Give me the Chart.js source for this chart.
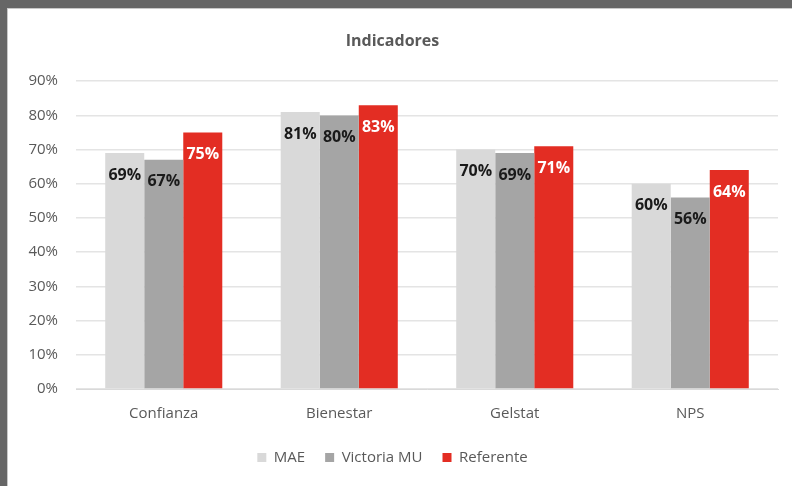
<!DOCTYPE html>
<html>
<head>
<meta charset="utf-8">
<script src="https://cdn.jsdelivr.net/npm/chart.js@4"></script>
<style>
  html, body { margin: 0; padding: 0; background: #666666; overflow: hidden; }
  #frame {
    position: absolute; left: 7px; top: 8px; width: 785px; height: 478px;
    background: #ffffff; box-shadow: inset 1px 1px 0 #c8c8c8;
  }
  canvas { display: block; }
</style>
</head>
<body>
<div id="frame"><canvas id="indicadores" width="785" height="478"></canvas></div>
<script>
// Data
var categories = ['Confianza', 'Bienestar', 'Gelstat', 'NPS'];
var seriesNames = ['MAE', 'Victoria MU', 'Referente'];
var mae = [69, 81, 70, 60];
var victoria = [67, 80, 69, 56];
var referente = [75, 83, 71, 64];
var yTicks = [0, 10, 20, 30, 40, 50, 60, 70, 80, 90];

var grey = '#595959';
var fontFamily = '"Open Sans", "Noto Sans", sans-serif';

// labels inside the top of each bar
var barLabels = {
  id: 'barLabels',
  afterDatasetsDraw: function(chart) {
    var ctx = chart.ctx;
    ctx.save();
    ctx.font = 'bold 16px ' + fontFamily;
    ctx.textAlign = 'center';
    ctx.textBaseline = 'middle';
    chart.data.datasets.forEach(function(ds, i) {
      var meta = chart.getDatasetMeta(i);
      ctx.fillStyle = i == 2 ? '#ffffff' : '#1a1a1a';
      meta.data.forEach(function(bar, j) {
        ctx.fillText(ds.data[j] + '%', bar.x, bar.y + 22);
      });
    });
    ctx.restore();
  }
};

var ctx = document.getElementById('indicadores').getContext('2d');
var chart = new Chart(ctx, {
  type: 'bar',
  data: {
    labels: categories,
    datasets: [
      { label: seriesNames[0], data: mae, backgroundColor: '#d9d9d9' },
      { label: seriesNames[1], data: victoria, backgroundColor: '#a5a5a5' },
      { label: seriesNames[2], data: referente, backgroundColor: '#e32d23' }
    ]
  },
  options: {
    responsive: false,
    animation: false,
    layout: { padding: { left: 0, right: 14, top: 0, bottom: 11 } },
    datasets: { bar: { categoryPercentage: 0.667, barPercentage: 1 } },
    plugins: {
      title: {
        display: true,
        text: 'Indicadores',
        color: grey,
        font: { family: fontFamily, size: 16, weight: 'bold' },
        padding: { top: 24, bottom: 30 }
      },
      legend: {
        position: 'bottom',
        labels: {
          color: grey,
          font: { family: fontFamily, size: 15 },
          boxWidth: 9,
          boxHeight: 9,
          padding: 20
        }
      },
      tooltip: { enabled: false }
    },
    scales: {
      x: {
        grid: { display: false },
        border: { color: '#d9d9d9', width: 1 },
        ticks: { color: grey, font: { family: fontFamily, size: 15 }, padding: 8 },
        afterFit: function(axis) { axis.height = axis.height - 1; }
      },
      y: {
        min: 0,
        max: 90,
        afterBuildTicks: function(axis) {
          axis.ticks = yTicks.map(function(v) { return { value: v }; });
        },
        grid: { color: '#e4e4e4', lineWidth: 1.5, drawTicks: false },
        border: { display: false },
        ticks: {
          color: grey,
          font: { family: fontFamily, size: 15 },
          padding: 18,
          callback: function(v) { return v + '%'; }
        },
        afterFit: function(axis) { axis.width = 69; }
      }
    }
  },
  plugins: [barLabels]
});
</script>
</body>
</html>
